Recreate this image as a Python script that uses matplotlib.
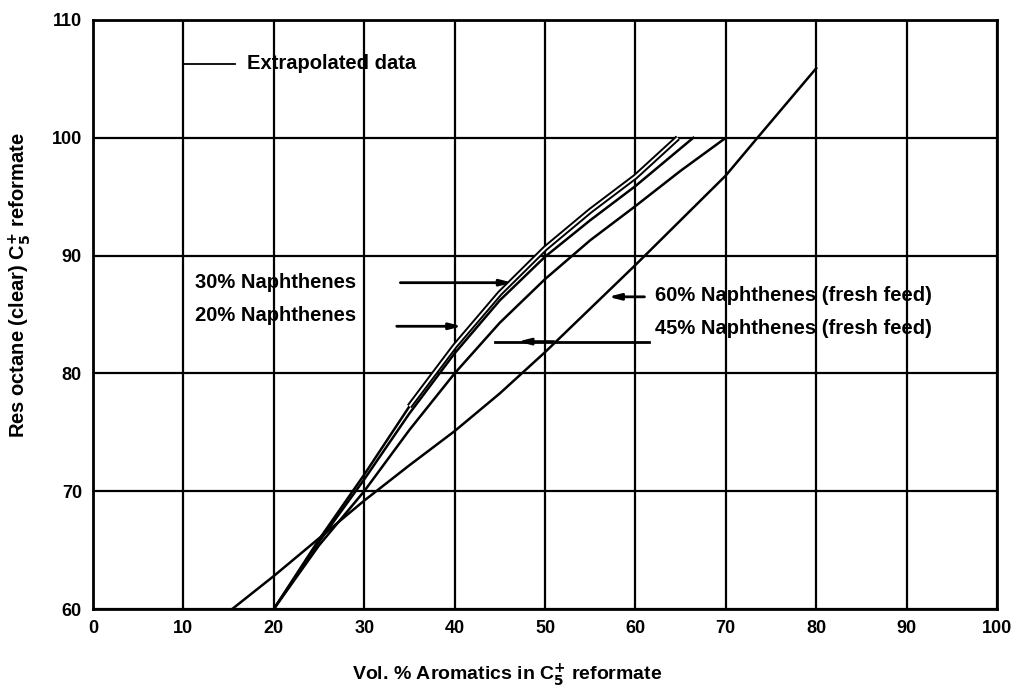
import numpy as np
import matplotlib
matplotlib.use('Agg')
import matplotlib.pyplot as plt

plt.rcParams['font.family'] = ['Liberation Sans', 'DejaVu Sans']
plt.rcParams['font.weight'] = 'bold'

# curves (vol % aromatics, RON clear)
x30 = [20, 25, 30, 35, 40, 45, 50, 55, 60, 64.7]
y30 = [60, 65.9, 71.4, 77.2, 82.3, 86.8, 90.6, 93.8, 96.7, 100]

x20 = [20, 25, 30, 35, 40, 45, 50, 55, 60, 66.4]
y20 = [60, 65.7, 71.0, 76.6, 81.7, 86.2, 89.9, 93.0, 95.9, 100]

x45 = [20, 25, 30, 35, 40, 45, 50, 55, 60, 65, 70]
y45 = [60, 65.4, 70.0, 75.2, 80.0, 84.3, 88.0, 91.3, 94.2, 97.2, 100]

x60 = [15.4, 20, 25, 30, 35, 40, 45, 50, 55, 60, 65, 70, 73.5, 80]
y60 = [60, 62.8, 66.0, 69.2, 72.2, 75.1, 78.3, 81.8, 85.5, 89.2, 93.0, 96.8, 100, 105.9]

xticks = list(range(0, 101, 10))
yticks = list(range(60, 111, 10))

fig = plt.figure(figsize=(10.19, 6.94), dpi=100)
ax = fig.add_axes([93 / 1019, 1 - 609 / 694, (997 - 93) / 1019, (609 - 20) / 694])

ax.set_xlim(0, 100)
ax.set_ylim(60, 110)
ax.set_xticks(xticks)
ax.set_yticks(yticks)
ax.grid(True, color='black', lw=1.6)
ax.set_axisbelow(True)
ax.tick_params(length=0, labelsize=13, pad=8)
for lab in ax.get_xticklabels() + ax.get_yticklabels():
    lab.set_fontweight('bold')
for s in ax.spines.values():
    s.set_linewidth(2)

lw = 1.8
ax.plot(x60, y60, color='black', lw=lw)
ax.plot(x45, y45, color='black', lw=lw)
ax.plot(x20, y20, color='black', lw=lw)
# 30 % curve is drawn as a double stroke (extrapolated) above ~35 %
ax.plot(x30[:4], y30[:4], color='black', lw=lw)
ax.plot(x30[3:], y30[3:], color='black', lw=4.2, solid_capstyle='butt')
ax.plot(x30[3:], y30[3:], color='white', lw=1.4, solid_capstyle='butt')

fs = 14.5

# legend-like note
ax.plot([10, 15.7], [106.3, 106.3], color='black', lw=1.3)
ax.text(17.0, 106.3, 'Extrapolated data', fontsize=fs, fontweight='bold', va='center')

arrow = dict(arrowstyle='-|>,head_length=0.7,head_width=0.18', color='black', lw=2,
             shrinkA=0, shrinkB=0)

ax.text(11.3, 87.7, '30% Naphthenes', fontsize=fs, fontweight='bold', va='center')
ax.annotate('', xy=(46.4, 87.7), xytext=(34.0, 87.7), arrowprops=arrow)

ax.text(11.3, 84.9, '20% Naphthenes', fontsize=fs, fontweight='bold', va='center')
ax.annotate('', xy=(40.8, 84.0), xytext=(33.6, 84.0), arrowprops=arrow)

ax.text(62.2, 86.6, '60% Naphthenes (fresh feed)', fontsize=fs, fontweight='bold', va='center')
ax.annotate('', xy=(57.0, 86.5), xytext=(61.0, 86.5), arrowprops=arrow)

ax.text(62.2, 83.8, '45% Naphthenes (fresh feed)', fontsize=fs, fontweight='bold', va='center')
ax.plot([44.5, 61.5], [82.7, 82.7], color='black', lw=2)
ax.annotate('', xy=(47.0, 82.7), xytext=(51.0, 82.7), arrowprops=arrow)

fig.text(507 / 1019, 1 - 675 / 694, r'Vol. % Aromatics in C$_\mathbf{5}^{\mathbf{+}}$ reformate',
         fontsize=14, fontweight='bold', ha='center', va='center')
fig.text(20 / 1019, 1 - 285 / 694, r'Res octane (clear) C$_\mathbf{5}^{\mathbf{+}}$ reformate',
         fontsize=14.5, fontweight='bold', ha='center', va='center', rotation=90)

fig.savefig('out.png', dpi=100)
